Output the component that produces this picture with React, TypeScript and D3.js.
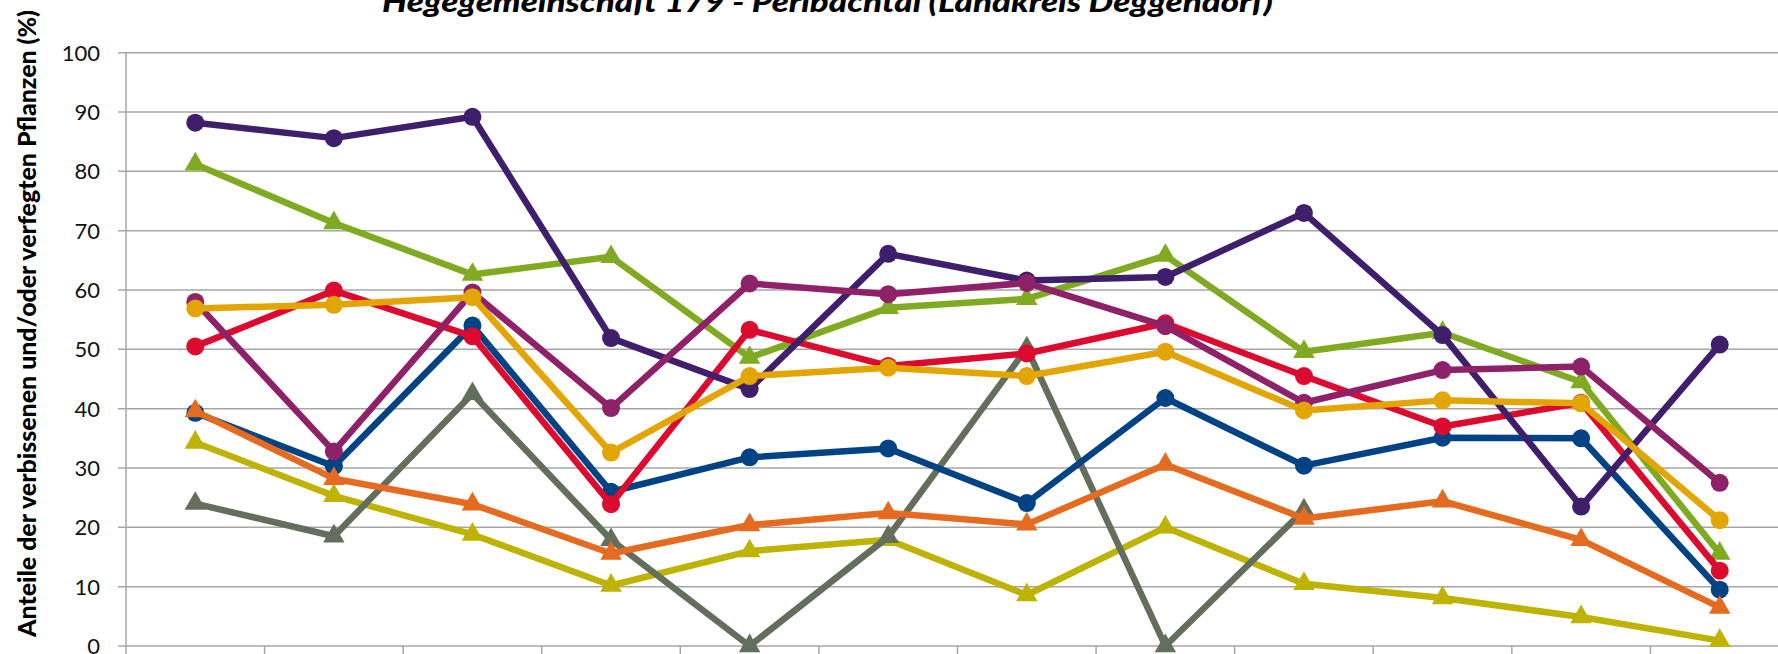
import React, { useEffect } from 'react';
import * as d3 from 'd3';

// survey years (their axis labels fall below the visible crop)
const years = ['1991', '1994', '1997', '2000', '2003', '2006', '2009', '2012', '2015', '2018', '2021', '2024'];
const yTicks = [0, 10, 20, 30, 40, 50, 60, 70, 80, 90, 100];

const olive = [34.3, 25.3, 18.8, 10.2, 16.0, 17.9, 8.6, 20.0, 10.5, 8.1, 4.9, 0.9];
const gray = [24.0, 18.5, 42.5, 17.9, 0, 18.4, 50.2, 0, 22.9, null, null, null];
const blue = [39.3, 30.3, 54.0, 26.0, 31.8, 33.3, 24.1, 41.8, 30.4, 35.1, 35.0, 9.5];
const orange = [39.6, 28.2, 23.9, 15.6, 20.4, 22.4, 20.5, 30.6, 21.5, 24.4, 17.9, 6.5];
const green = [81.2, 71.3, 62.6, 65.6, 48.6, 57.0, 58.5, 65.8, 49.6, 52.8, 44.5, 15.6];
const red = [50.5, 59.9, 52.2, 23.9, 53.3, 47.2, 49.3, 54.4, 45.5, 37.0, 41.0, 12.7];
const purple = [88.2, 85.6, 89.2, 51.9, 43.3, 66.1, 61.6, 62.2, 73.0, 52.4, 23.5, 50.8];
const magenta = [58.0, 32.8, 59.6, 40.1, 61.1, 59.3, 61.2, 53.9, 41.0, 46.5, 47.1, 27.5];
const gold = [56.9, 57.5, 58.8, 32.6, 45.5, 46.9, 45.5, 49.6, 39.7, 41.4, 40.9, 21.2];

// drawing order: first one lies at the bottom
const series = [
  { values: olive, color: '#BDB300', shape: 'tri' },
  { values: gray, color: '#636F5C', shape: 'tri' },
  { values: blue, color: '#004385', shape: 'circle' },
  { values: orange, color: '#E46B1F', shape: 'tri' },
  { values: green, color: '#7FAA22', shape: 'tri' },
  { values: red, color: '#DC0A2F', shape: 'circle' },
  { values: purple, color: '#3F1F6B', shape: 'circle' },
  { values: magenta, color: '#8E2168', shape: 'circle' },
  { values: gold, color: '#E3A502', shape: 'circle' },
];

const width = 1778;
const height = 654;
const left = 126;
const right = 1789;
const top = 52.7;
const bottom = 646;

export default function App() {
  useEffect(() => {
    document.body.style.margin = '0';
  }, []);

  const x = d3.scaleBand().domain(years).range([left, right]);
  const y = d3.scaleLinear().domain([0, 100]).range([bottom, top]);
  const cx = (i) => x(years[i]) + x.bandwidth() / 2;

  const line = d3.line()
    .defined((d) => d != null)
    .x((d, i) => cx(i))
    .y((d) => y(d));

  const tri = d3.symbol(d3.symbolTriangle, 200)();
  const boundaries = years.map((t) => x(t)).concat([right]);
  const font = 'Lato, "Open Sans", sans-serif';

  return (
    <svg width={width} height={height} style={{ display: 'block', background: '#fff' }}>
      {/* gridlines */}
      {yTicks.map((t) => (
        <line key={'g' + t} x1={left - 8} x2={right} y1={y(t)} y2={y(t)} stroke="#A6A6A6" strokeWidth={1.5} />
      ))}
      <line x1={left} x2={left} y1={top} y2={bottom} stroke="#A6A6A6" strokeWidth={1.5} />
      {boundaries.map((b, i) => (
        <line key={'xt' + i} x1={b} x2={b} y1={bottom} y2={bottom + 9} stroke="#A6A6A6" strokeWidth={1.5} />
      ))}
      {yTicks.map((t) => (
        <text key={'l' + t} x={100} y={y(t)} dy="0.36em" textAnchor="end" fontFamily={font} fontSize={22} fill="#111">
          {t}
        </text>
      ))}

      {/* lines */}
      {series.map((s, k) => (
        <g key={'s' + k}>
          <path d={line(s.values)} fill="none" stroke={s.color} strokeWidth={6.5} strokeLinejoin="round" />
          {s.values.map((v, i) => v == null ? null : (
            s.shape === 'circle'
              ? <circle key={i} cx={cx(i)} cy={y(v)} r={9} fill={s.color} />
              : <path key={i} d={tri} transform={`translate(${cx(i)},${y(v)})`} fill={s.color} />
          ))}
        </g>
      ))}

      {/* titles */}
      <text x={827.5} y={12} textAnchor="middle" fontFamily={font} fontWeight="900" fontStyle="italic"
        fontSize={29} textLength={891} lengthAdjust="spacingAndGlyphs" fill="#000">
        Hegegemeinschaft 179 - Perlbachtal (Landkreis Deggendorf)
      </text>
      <text transform={`translate(36,323.5) rotate(-90)`} textAnchor="middle" fontFamily={font} fontWeight="900"
        fontSize={24} textLength={627} lengthAdjust="spacingAndGlyphs" fill="#000">
        Anteile der verbissenen und/oder verfegten Pflanzen (%)
      </text>
    </svg>
  );
}
